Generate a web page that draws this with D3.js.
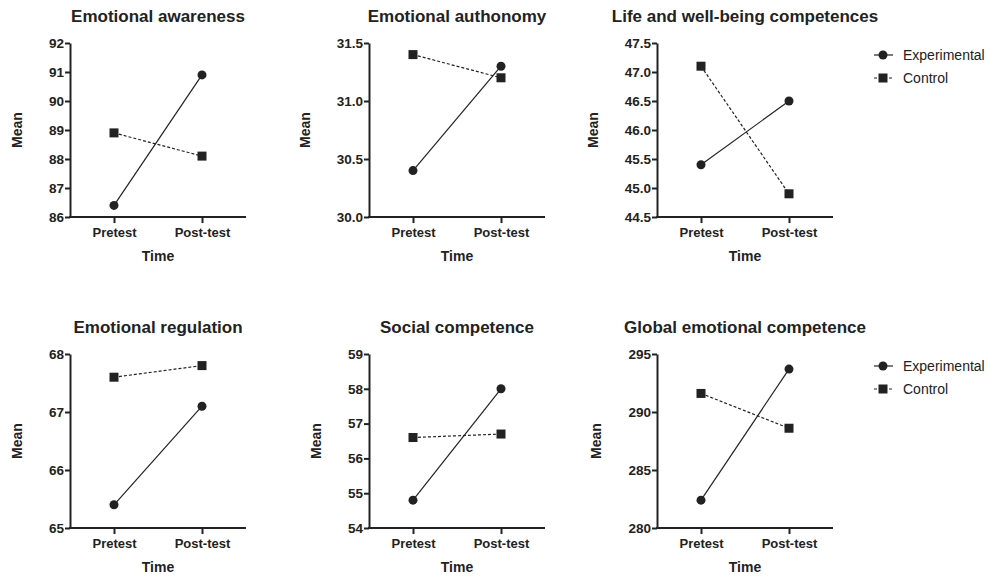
<!DOCTYPE html>
<html>
<head>
<meta charset="utf-8">
<script src="https://cdn.jsdelivr.net/npm/d3@7"></script>
<style>
  body { margin: 0; background: #fff; }
  svg text { font-family: "Liberation Sans", Arial, sans-serif; fill: #222; }
</style>
</head>
<body>
<svg id="chart" width="991" height="576"></svg>
<script>
// chart data
var titles = ["Emotional awareness", "Emotional authonomy", "Life and well-being competences",
              "Emotional regulation", "Social competence", "Global emotional competence"];
var timePoints = ["Pretest", "Post-test"];
var groups = ["Experimental", "Control"];
var experimental = [[86.4, 90.9], [30.4, 31.3], [45.4, 46.5], [65.4, 67.1], [54.8, 58.0], [282.4, 293.7]];
var control      = [[88.9, 88.1], [31.4, 31.2], [47.1, 44.9], [67.6, 67.8], [56.6, 56.7], [291.6, 288.6]];
var yDomains = [[86, 92], [30, 31.5], [44.5, 47.5], [65, 68], [54, 59], [280, 295]];
var yTicks = [
  [86, 87, 88, 89, 90, 91, 92],
  [30.0, 30.5, 31.0, 31.5],
  [44.5, 45.0, 45.5, 46.0, 46.5, 47.0, 47.5],
  [65, 66, 67, 68],
  [54, 55, 56, 57, 58, 59],
  [280, 285, 290, 295]
];
var tickFormats = ["d", ".1f", ".1f", "d", "d", "d"];

var svg = d3.select("#chart");
var ink = "#222";

// panel frames (left of y axis, top, width, height)
var lefts = [70, 369, 657];
var tops = [43, 354];
var pw = 176, ph = 174;

titles.forEach(function(title, i) {
    var col = i % 3, row = Math.floor(i / 3);
    var g = svg.append("g")
        .attr("transform", "translate(" + lefts[col] + "," + tops[row] + ")");

    var x = d3.scalePoint().domain(timePoints).range([0, pw]).padding(0.5);
    var y = d3.scaleLinear().domain(yDomains[i]).range([ph, 0]);

    var yAx = g.append("g")
        .call(d3.axisLeft(y).tickValues(yTicks[i]).tickFormat(d3.format(tickFormats[i]))
            .tickSize(5).tickPadding(1).tickSizeOuter(0));
    var xAx = g.append("g")
        .attr("transform", "translate(0," + ph + ")")
        .call(d3.axisBottom(x).tickSize(6).tickPadding(5).tickSizeOuter(0));

    [yAx, xAx].forEach(function(ax) {
        ax.select(".domain").attr("stroke", ink).attr("stroke-width", 2);
        ax.selectAll(".tick line").attr("stroke", ink).attr("stroke-width", 2);
        ax.selectAll(".tick text").style("font-size", "13px").style("font-weight", "bold").attr("fill", ink);
    });
    yAx.selectAll(".tick text").style("font-size", "13.5px");
    // x axis line runs from the y axis to the right end
    xAx.select(".domain").attr("d", "M-1,0H" + pw);

    var line = d3.line()
        .x(function(d, k) { return x(timePoints[k]); })
        .y(function(d) { return y(d); });

    g.append("path").datum(control[i])
        .attr("d", line).attr("fill", "none").attr("stroke", ink)
        .attr("stroke-width", 1.2).attr("stroke-dasharray", "3,2");
    g.append("path").datum(experimental[i])
        .attr("d", line).attr("fill", "none").attr("stroke", ink).attr("stroke-width", 1.2);

    g.selectAll("rect.ctrl").data(control[i]).enter().append("rect")
        .attr("x", function(d, k) { return x(timePoints[k]) - 4.5; })
        .attr("y", function(d) { return y(d) - 4.5; })
        .attr("width", 9).attr("height", 9).attr("fill", ink);
    g.selectAll("circle.exp").data(experimental[i]).enter().append("circle")
        .attr("cx", function(d, k) { return x(timePoints[k]); })
        .attr("cy", function(d) { return y(d); })
        .attr("r", 4.5).attr("fill", ink);

    g.append("text")
        .attr("x", pw / 2).attr("y", -21)
        .attr("text-anchor", "middle")
        .style("font-size", "17px").style("font-weight", "bold")
        .text(title);

    g.append("text")
        .attr("x", pw / 2).attr("y", ph + 44)
        .attr("text-anchor", "middle")
        .style("font-size", "14px").style("font-weight", "bold")
        .text("Time");

    var bb = yAx.node().getBBox();
    g.append("text")
        .attr("transform", "translate(" + (bb.x - 27) + "," + (ph / 2) + ") rotate(-90)")
        .attr("text-anchor", "middle")
        .style("font-size", "14px").style("font-weight", "bold")
        .text("Mean");

    // legend beside the right column
    if (col === 2) {
        var lg = g.append("g").attr("transform", "translate(" + (pw + 50) + ",12)");
        groups.forEach(function(name, k) {
            var r = lg.append("g").attr("transform", "translate(0," + (k * 23) + ")");
            r.append("line").attr("x1", -9).attr("x2", 10)
                .attr("stroke", ink).attr("stroke-width", 1.2)
                .attr("stroke-dasharray", k === 1 ? "3,2" : null);
            if (k === 0) r.append("circle").attr("r", 4.5).attr("fill", ink);
            else r.append("rect").attr("x", -4.5).attr("y", -4.5).attr("width", 9).attr("height", 9).attr("fill", ink);
            r.append("text").attr("x", 20).attr("y", 5)
                .style("font-size", "14px").text(name);
        });
    }
});
</script>
</body>
</html>
